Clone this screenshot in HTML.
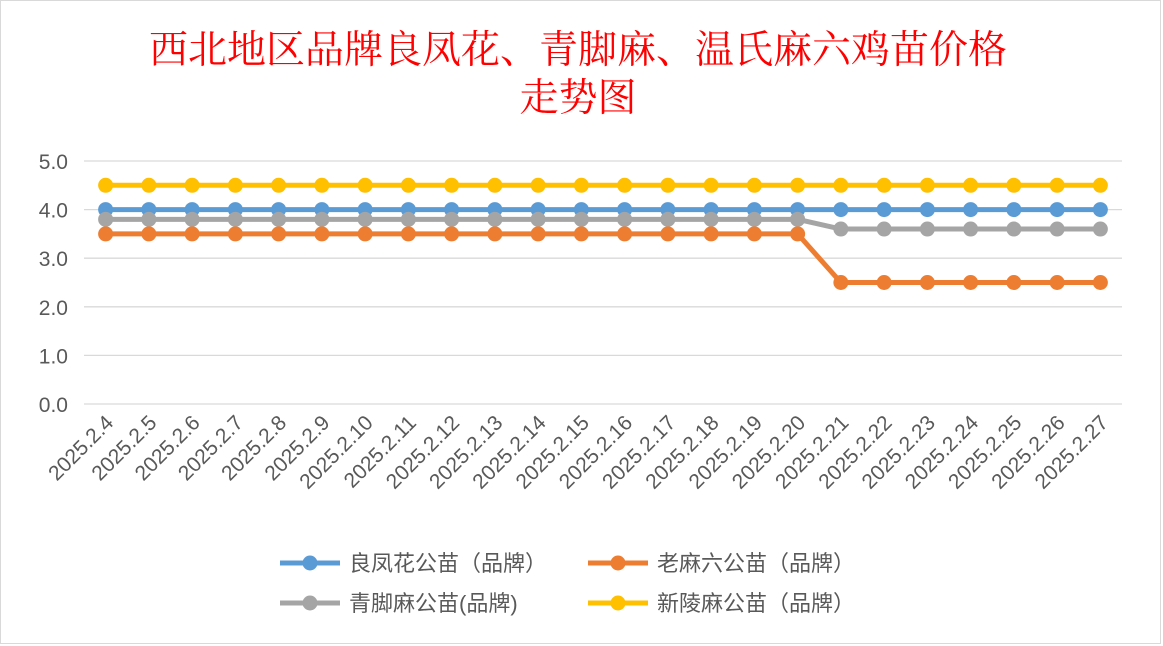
<!DOCTYPE html>
<html><head><meta charset="utf-8"><style>
body{margin:0;background:#fff;}
#wrap{position:relative;width:1163px;height:646px;overflow:hidden;background:#fff;}
svg text{font-family:"Liberation Sans","Noto Sans CJK SC",sans-serif;}
</style></head><body>
<div id="wrap">
<svg id="chart" width="1163" height="646">
<rect x="0.5" y="0.5" width="1160" height="643" fill="#fff" stroke="#d9d9d9"/>
<text x="578" y="63" text-anchor="middle" font-size="39" fill="#ff0000" style="font-family:'Liberation Serif','Noto Serif CJK SC',serif">西北地区品牌良凤花、青脚麻、温氏麻六鸡苗价格</text>
<text x="578" y="111" text-anchor="middle" font-size="39" fill="#ff0000" style="font-family:'Liberation Serif','Noto Serif CJK SC',serif">走势图</text>
<g id="grid"></g><g id="series"></g><g id="xlabels"></g><g id="legend"></g>
</svg>
</div>
<script>
const categories=["2025.2.4","2025.2.5","2025.2.6","2025.2.7","2025.2.8","2025.2.9","2025.2.10","2025.2.11","2025.2.12","2025.2.13","2025.2.14","2025.2.15","2025.2.16","2025.2.17","2025.2.18","2025.2.19","2025.2.20","2025.2.21","2025.2.22","2025.2.23","2025.2.24","2025.2.25","2025.2.26","2025.2.27"];
const yTicks=[0,1,2,3,4,5];
const liangfenghua=[4,4,4,4,4,4,4,4,4,4,4,4,4,4,4,4,4,4,4,4,4,4,4,4];
const laomaliu=[3.5,3.5,3.5,3.5,3.5,3.5,3.5,3.5,3.5,3.5,3.5,3.5,3.5,3.5,3.5,3.5,3.5,2.5,2.5,2.5,2.5,2.5,2.5,2.5];
const qingjiaoma=[3.8,3.8,3.8,3.8,3.8,3.8,3.8,3.8,3.8,3.8,3.8,3.8,3.8,3.8,3.8,3.8,3.8,3.6,3.6,3.6,3.6,3.6,3.6,3.6];
const xinlingma=[4.5,4.5,4.5,4.5,4.5,4.5,4.5,4.5,4.5,4.5,4.5,4.5,4.5,4.5,4.5,4.5,4.5,4.5,4.5,4.5,4.5,4.5,4.5,4.5];
const seriesNames=["良凤花公苗（品牌）","老麻六公苗（品牌）","青脚麻公苗(品牌)","新陵麻公苗（品牌）"];
const NS="http://www.w3.org/2000/svg";
const x0=84,x1=1122,y0=404,y5=161;
const step=(x1-x0)/categories.length;
const xs=i=>x0+step*(i+0.5);
const ys=v=>y0-(v/5)*(y0-y5);
function mk(t,a,p){const e=document.createElementNS(NS,t);for(const k in a)e.setAttribute(k,a[k]);p.appendChild(e);return e;}
const grid=document.getElementById('grid');
yTicks.forEach(v=>{
 const l=mk('line',{x1:x0,x2:x1,y1:ys(v),y2:ys(v),stroke:'#d9d9d9','stroke-width':1.3},grid);
 
 
 const t=mk('text',{x:68,y:ys(v)+8,'text-anchor':'end','font-size':21,fill:'#595959'},grid);
 t.textContent=v.toFixed(1);
 
 
});
const xl=document.getElementById('xlabels');
categories.forEach((c,i)=>{
 const t=mk('text',{x:xs(i)+9,y:424,'text-anchor':'end','font-size':21,fill:'#595959',transform:`rotate(-45 ${xs(i)+9} 424)`},xl);
 t.textContent=c;
 
 
});
const colors=['#5b9bd5','#ed7d31','#a5a5a5','#ffc000'];
const data=[liangfenghua,laomaliu,qingjiaoma,xinlingma];
const order=[3,0,2,1];
const sg=document.getElementById('series');
order.forEach(k=>{
 const g=mk('g',{},sg);
 
 
 const p=mk('polyline',{points:data[k].map((v,i)=>xs(i)+','+ys(v)).join(' '),fill:'none',stroke:colors[k],'stroke-width':5,'stroke-linejoin':'round'},g);
 
 
 data[k].forEach((v,i)=>{
  const c=mk('circle',{cx:xs(i),cy:ys(v),r:7.5,fill:colors[k]},g);
  
  
 });
});
const lg=document.getElementById('legend');
const lpos=[[280,563],[588,563],[280,603],[588,603]];
[0,1,2,3].forEach(k=>{
 const [lx,ly]=lpos[k];
 const g=mk('g',{},lg);
 
 
 mk('line',{x1:lx,x2:lx+60,y1:ly,y2:ly,stroke:colors[k],'stroke-width':5},g);
 mk('circle',{cx:lx+30,cy:ly,r:7.5,fill:colors[k]},g);
 const t=mk('text',{x:lx+69,y:ly+8,'font-size':22,fill:'#595959'},g);
 t.textContent=seriesNames[k];
});
</script>
</body></html>
